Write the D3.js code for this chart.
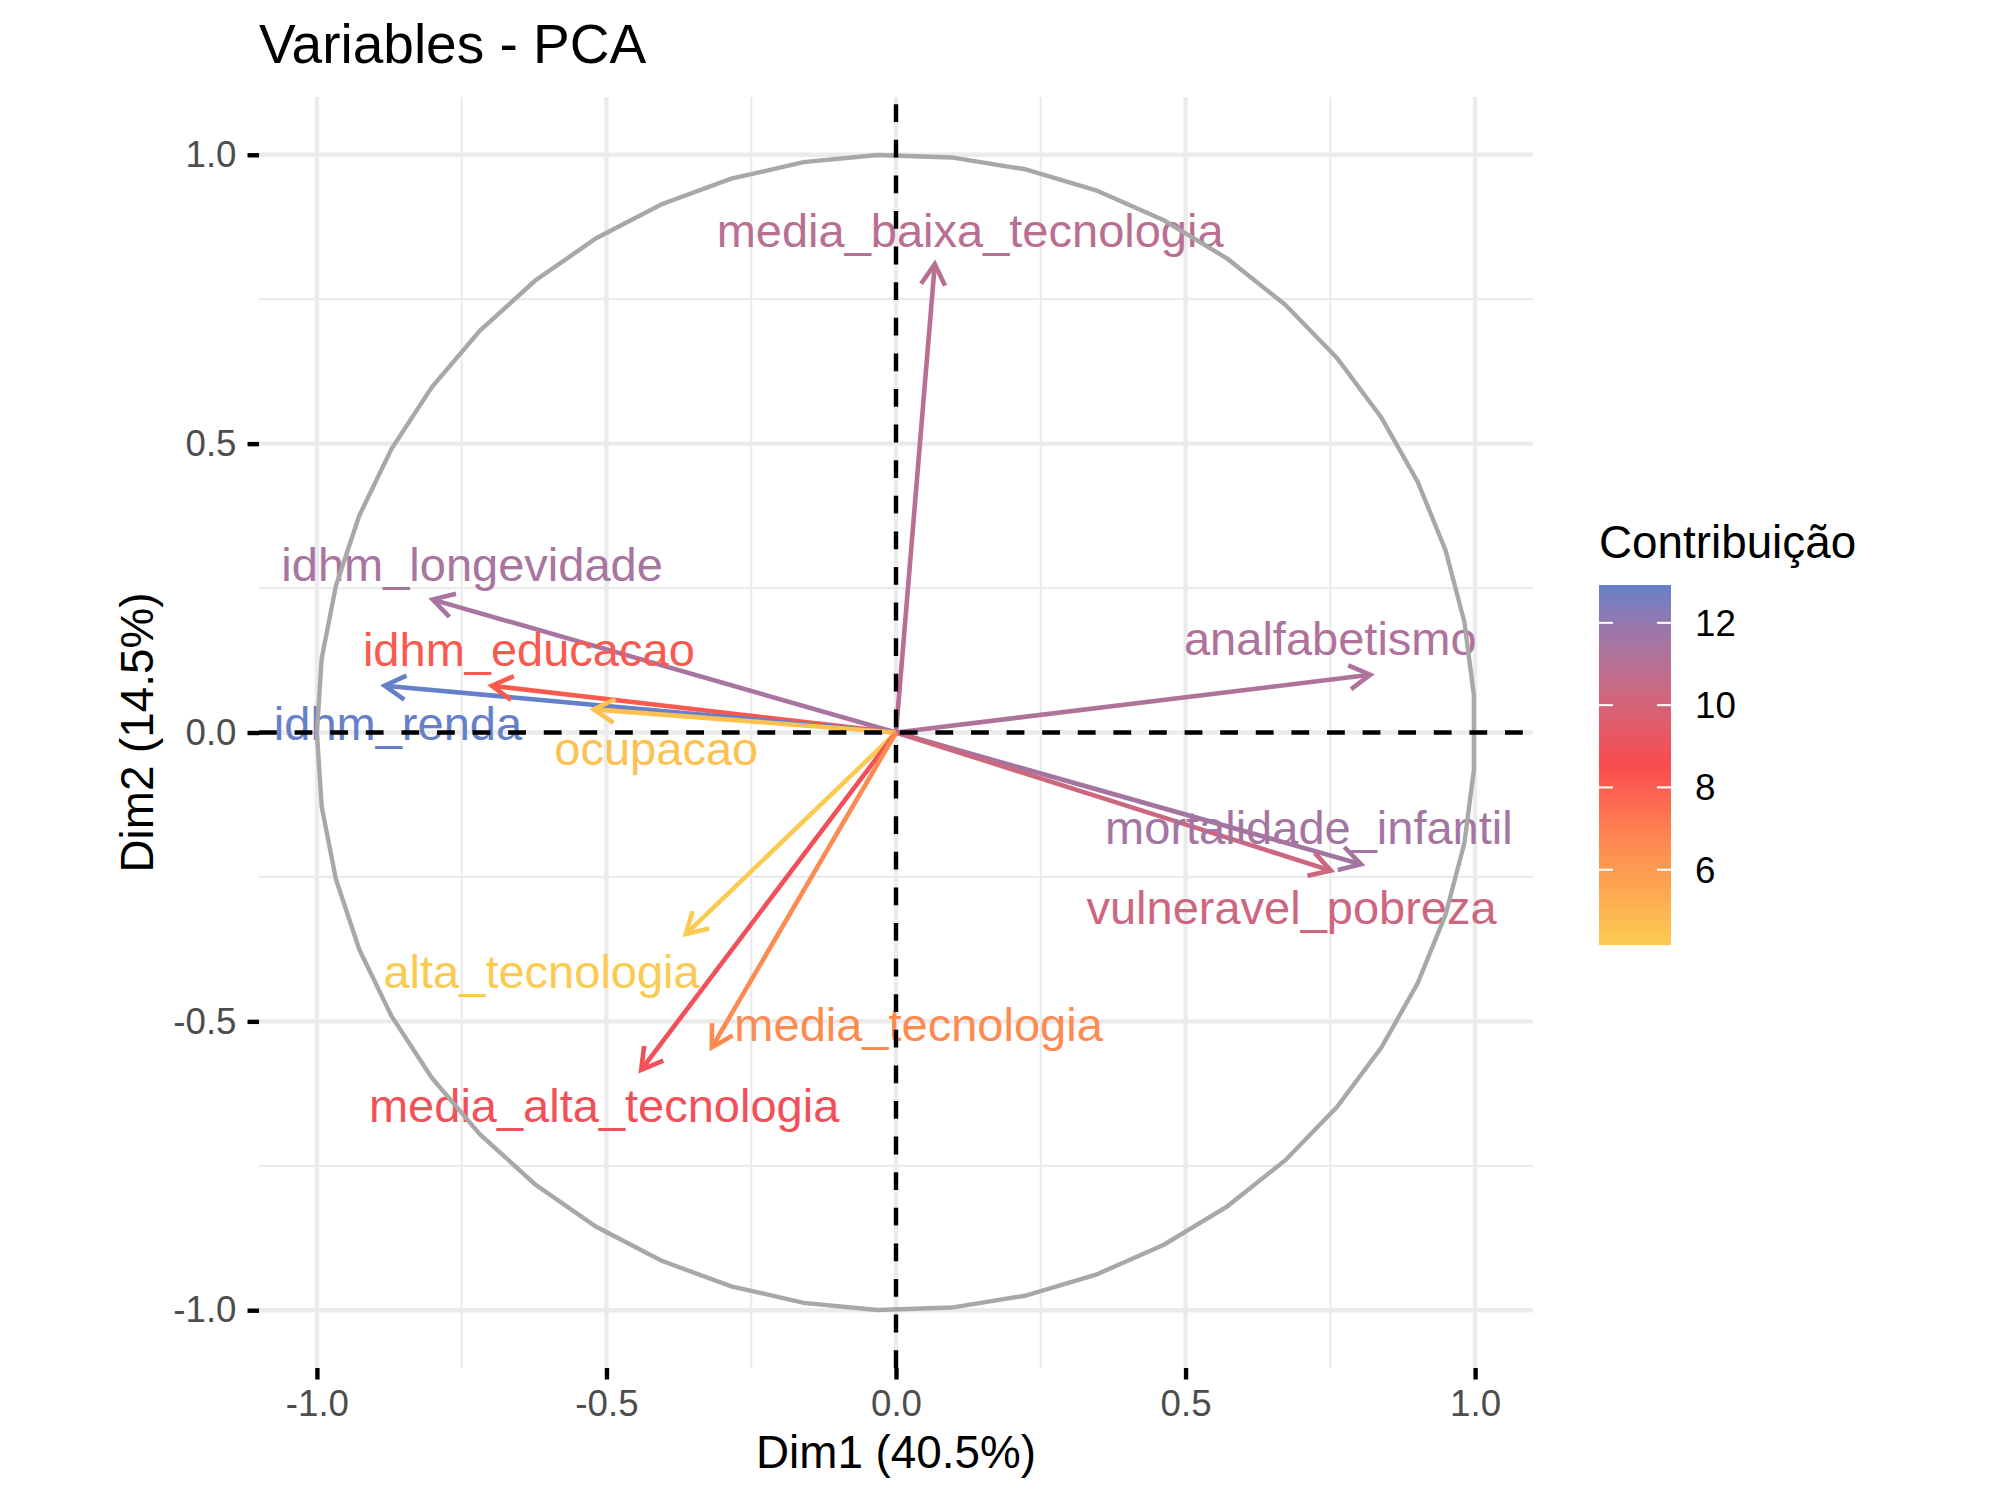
<!DOCTYPE html>
<html>
<head>
<meta charset="utf-8">
<script src="https://cdn.jsdelivr.net/npm/d3@7"></script>
<style>
  body { margin: 0; background: #fff; }
  text { font-family: "Liberation Sans", Arial, Helvetica, sans-serif; }
</style>
</head>
<body>
<div id="app"></div>
<script>
// Variable names
const variables = [
  "media_baixa_tecnologia", "idhm_longevidade", "idhm_educacao", "idhm_renda",
  "ocupacao", "analfabetismo", "mortalidade_infantil", "vulneravel_pobreza",
  "alta_tecnologia", "media_alta_tecnologia", "media_tecnologia"
];
// Coordinates (correlations) on Dim1 and Dim2
const dim1 = [0.067, -0.800, -0.698, -0.883, -0.522, 0.819, 0.803, 0.751, -0.363, -0.440, -0.318];
const dim2 = [0.811, 0.230, 0.081, 0.081, 0.040, 0.100, -0.228, -0.239, -0.349, -0.584, -0.545];
// Contribution (%) to Dim1-2
const contrib = [10.95, 11.45, 8.16, 12.92, 4.53, 11.25, 11.52, 10.27, 4.17, 8.84, 6.58];
// Label positions as placed by the repel step
const labelX = [0.128, -0.732, -0.634, -0.860, -0.414, 0.750, 0.713, 0.683, -0.612, -0.504, 0.039];
const labelY = [0.869, 0.290, 0.144, 0.016, -0.027, 0.163, -0.165, -0.303, -0.414, -0.646, -0.506];

// Axis ticks
const majorTicks = [-1, -0.5, 0, 0.5, 1];
const minorTicks = [-0.75, -0.25, 0.25, 0.75];
const legendTicks = [6, 8, 10, 12];

const width = 2000;
const height = 1500;

const svg = d3
  .select("#app")
  .append("svg")
  .attr("width", width)
  .attr("height", height)
  .attr("viewBox", [0, 0, width, height]);

svg.append("rect").attr("width", width).attr("height", height).attr("fill", "#fff");

// Scales
const x = d3.scaleLinear([-1.1, 1.1], [259, 1533]);
const y = d3.scaleLinear([-1.1, 1.1], [1368, 97]);

const [cMin, cMax] = d3.extent(contrib);
const color = d3
  .scaleLinear()
  .domain([cMin, (cMin + cMax) / 2, cMax])
  .range(["#FBCA50", "#F94A50", "#6480C9"])
  .interpolate(d3.interpolateLab);

// Grid
const grid = svg.append("g");
grid
  .selectAll(".minor-x")
  .data(minorTicks)
  .join("line")
  .attr("x1", (d) => x(d))
  .attr("x2", (d) => x(d))
  .attr("y1", y.range()[0])
  .attr("y2", y.range()[1])
  .attr("stroke", "#EBEBEB")
  .attr("stroke-width", 2.2);
grid
  .selectAll(".minor-y")
  .data(minorTicks)
  .join("line")
  .attr("y1", (d) => y(d))
  .attr("y2", (d) => y(d))
  .attr("x1", x.range()[0])
  .attr("x2", x.range()[1])
  .attr("stroke", "#EBEBEB")
  .attr("stroke-width", 2.2);
grid
  .selectAll(".major-x")
  .data(majorTicks)
  .join("line")
  .attr("x1", (d) => x(d))
  .attr("x2", (d) => x(d))
  .attr("y1", y.range()[0])
  .attr("y2", y.range()[1])
  .attr("stroke", "#EBEBEB")
  .attr("stroke-width", 4.4);
grid
  .selectAll(".major-y")
  .data(majorTicks)
  .join("line")
  .attr("y1", (d) => y(d))
  .attr("y2", (d) => y(d))
  .attr("x1", x.range()[0])
  .attr("x2", x.range()[1])
  .attr("stroke", "#EBEBEB")
  .attr("stroke-width", 4.4);

// Axes
const fmt = (d) => d.toFixed(1);

svg
  .append("g")
  .attr("transform", `translate(0,${y.range()[0]})`)
  .call(d3.axisBottom(x).tickValues(majorTicks).tickFormat(fmt).tickSize(11.5).tickPadding(10.5))
  .call((g) => g.select(".domain").remove())
  .call((g) => g.selectAll(".tick line").attr("stroke", "#000").attr("stroke-width", 4.4))
  .call((g) =>
    g.selectAll(".tick text")
      .attr("fill", "#4D4D4D")
      .attr("font-size", 36.7)
      .attr("font-family", "Liberation Sans, Arial, sans-serif")
  );

svg
  .append("g")
  .attr("transform", `translate(${x.range()[0]},0)`)
  .call(d3.axisLeft(y).tickValues(majorTicks).tickFormat(fmt).tickSize(11.5).tickPadding(11))
  .call((g) => g.select(".domain").remove())
  .call((g) => g.selectAll(".tick line").attr("stroke", "#000").attr("stroke-width", 4.4))
  .call((g) =>
    g.selectAll(".tick text")
      .attr("fill", "#4D4D4D")
      .attr("font-size", 36.7)
      .attr("font-family", "Liberation Sans, Arial, sans-serif")
  );

// Axis titles
svg
  .append("text")
  .attr("x", (x.range()[0] + x.range()[1]) / 2)
  .attr("y", 1468)
  .attr("text-anchor", "middle")
  .attr("font-size", 45.8)
  .attr("fill", "#000")
  .text("Dim1 (40.5%)");

svg
  .append("text")
  .attr("transform", `translate(153,${(y.range()[0] + y.range()[1]) / 2}) rotate(-90)`)
  .attr("text-anchor", "middle")
  .attr("font-size", 45.8)
  .attr("fill", "#000")
  .text("Dim2 (14.5%)");

// Title
svg
  .append("text")
  .attr("x", x.range()[0])
  .attr("y", 63)
  .attr("font-size", 55)
  .attr("fill", "#000")
  .text("Variables - PCA");

// Arrows
const data = variables.map((name, i) => ({
  name,
  x: dim1[i],
  y: dim2[i],
  contrib: contrib[i],
  lx: labelX[i],
  ly: labelY[i]
}));

const headLen = 24;
const headAngle = Math.PI / 6;

function arrowHead(d) {
  const x0 = x(0), y0 = y(0);
  const x1 = x(d.x), y1 = y(d.y);
  const a = Math.atan2(y1 - y0, x1 - x0);
  const p1 = [x1 - headLen * Math.cos(a - headAngle), y1 - headLen * Math.sin(a - headAngle)];
  const p2 = [x1 - headLen * Math.cos(a + headAngle), y1 - headLen * Math.sin(a + headAngle)];
  return `M${p1[0]},${p1[1]}L${x1},${y1}L${p2[0]},${p2[1]}`;
}

const arrows = svg.append("g");
arrows
  .selectAll("line")
  .data(data)
  .join("line")
  .attr("x1", x(0))
  .attr("y1", y(0))
  .attr("x2", (d) => x(d.x))
  .attr("y2", (d) => y(d.y))
  .attr("stroke", (d) => color(d.contrib))
  .attr("stroke-width", 4.6);
arrows
  .selectAll("path")
  .data(data)
  .join("path")
  .attr("d", arrowHead)
  .attr("fill", "none")
  .attr("stroke", (d) => color(d.contrib))
  .attr("stroke-width", 4.6)
  .attr("stroke-linejoin", "miter");

// Labels
svg
  .append("g")
  .selectAll("text")
  .data(data)
  .join("text")
  .attr("x", (d) => x(d.lx))
  .attr("y", (d) => y(d.ly))
  .attr("dy", "0.35em")
  .attr("text-anchor", "middle")
  .attr("font-size", 47)
  .attr("fill", (d) => color(d.contrib))
  .text((d) => d.name);

// Correlation circle (50 points from -pi to pi)
const theta = d3.range(50).map((i) => -Math.PI + (2 * Math.PI * i) / 49);
svg
  .append("path")
  .datum(theta)
  .attr("d", d3.line().x((t) => x(Math.cos(t))).y((t) => y(Math.sin(t))))
  .attr("fill", "none")
  .attr("stroke", "#A8A8A8")
  .attr("stroke-width", 4.4);

// Dashed axis lines
svg
  .append("path")
  .attr("d", `M${x.range()[0]},${y(0)}L${x.range()[1]},${y(0)}`)
  .attr("stroke", "#000")
  .attr("stroke-width", 4.4)
  .attr("stroke-dasharray", "17.8,17.8");
svg
  .append("path")
  .attr("d", `M${x(0)},${y.range()[0]}L${x(0)},${y.range()[1]}`)
  .attr("stroke", "#000")
  .attr("stroke-width", 4.4)
  .attr("stroke-dasharray", "17.8,17.8");

// Legend
const legendX = 1599;
const barW = 72;
const ly = d3.scaleLinear([cMin, cMax], [945, 585]);

const defs = svg.append("defs");
const grad = defs
  .append("linearGradient")
  .attr("id", "contrib-grad")
  .attr("x1", 0)
  .attr("y1", 1)
  .attr("x2", 0)
  .attr("y2", 0);
grad
  .selectAll("stop")
  .data(d3.range(21).map((i) => i / 20))
  .join("stop")
  .attr("offset", (t) => t)
  .attr("stop-color", (t) => color(cMin + t * (cMax - cMin)));

const legend = svg.append("g");
legend
  .append("text")
  .attr("x", legendX)
  .attr("y", 558)
  .attr("font-size", 45.8)
  .attr("fill", "#000")
  .text("Contribuição");

legend
  .append("rect")
  .attr("x", legendX)
  .attr("y", ly(cMax))
  .attr("width", barW)
  .attr("height", ly(cMin) - ly(cMax))
  .attr("fill", "url(#contrib-grad)");

legend
  .selectAll(".tl")
  .data(legendTicks)
  .join("line")
  .attr("x1", legendX)
  .attr("x2", legendX + 14)
  .attr("y1", (d) => ly(d))
  .attr("y2", (d) => ly(d))
  .attr("stroke", "#fff")
  .attr("stroke-width", 2);
legend
  .selectAll(".tr")
  .data(legendTicks)
  .join("line")
  .attr("x1", legendX + barW - 14)
  .attr("x2", legendX + barW)
  .attr("y1", (d) => ly(d))
  .attr("y2", (d) => ly(d))
  .attr("stroke", "#fff")
  .attr("stroke-width", 2);

legend
  .selectAll(".lab")
  .data(legendTicks)
  .join("text")
  .attr("x", legendX + barW + 24)
  .attr("y", (d) => ly(d))
  .attr("dy", "0.35em")
  .attr("font-size", 36.7)
  .attr("fill", "#000")
  .text((d) => d);
</script>
</body>
</html>
